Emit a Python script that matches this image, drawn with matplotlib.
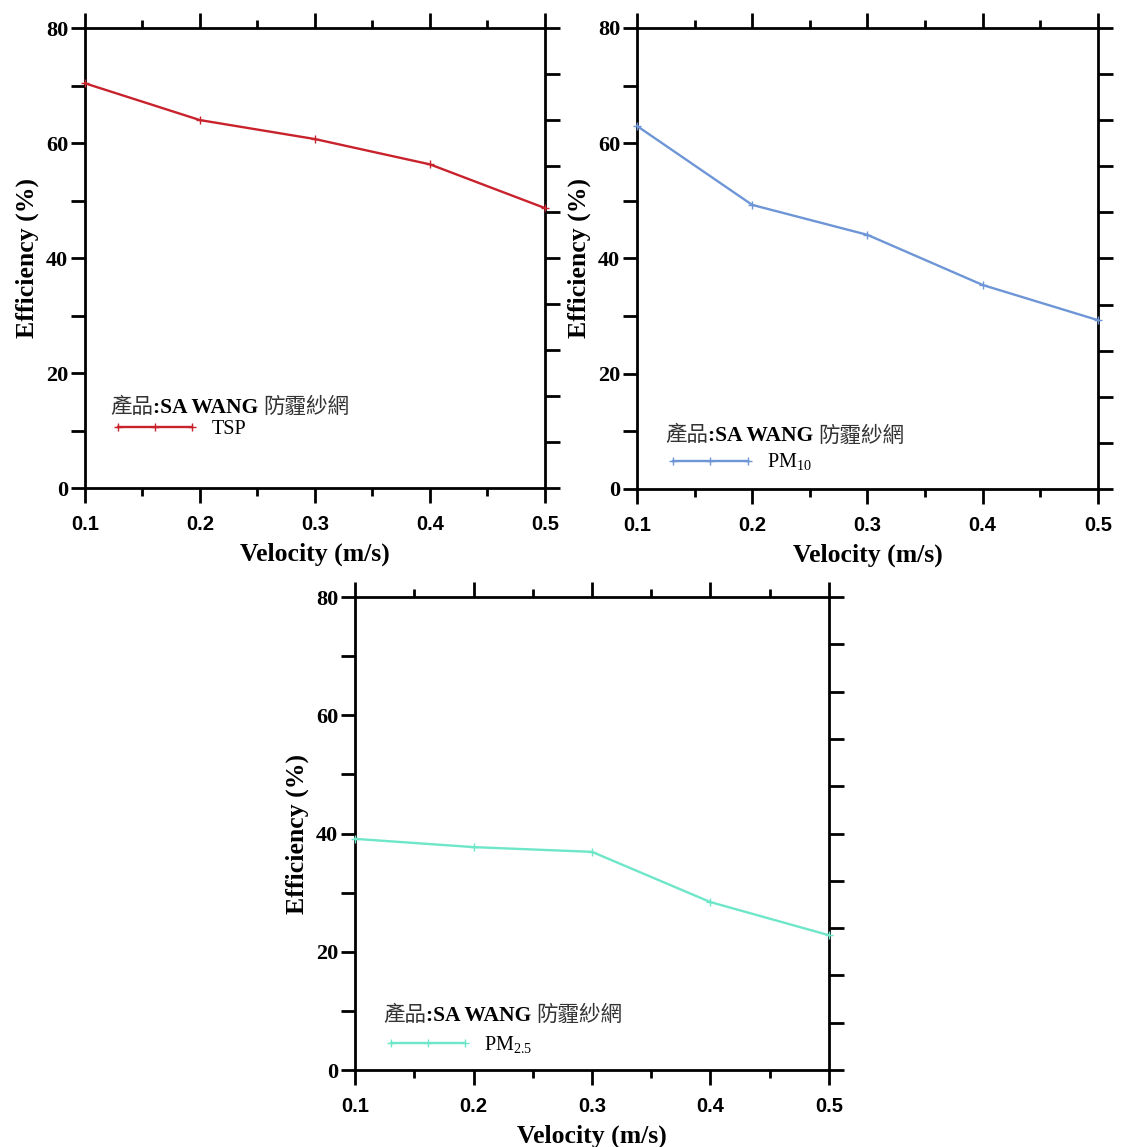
import numpy as np
import matplotlib.pyplot as plt
from matplotlib.ticker import MultipleLocator

plt.rcParams['mathtext.fontset'] = 'custom'
plt.rcParams['mathtext.rm'] = 'Liberation Serif'

velocity = [0.1, 0.2, 0.3, 0.4, 0.5]
tsp = [70.4, 64.0, 60.7, 56.3, 48.7]
pm10 = [63.0, 49.3, 44.1, 35.4, 29.3]
pm25 = [39.1, 37.7, 36.9, 28.4, 22.8]

labels = ['TSP', r'PM$_{\mathregular{10}}$', r'PM$_{\mathregular{2.5}}$']
colors = ['#c8232d', '#6e96d7', '#6ee6c8']
title_parts = [('產品', 'cjk'), (':SA WANG ', 'serif'), ('防霾紗網', 'cjk')]

SERIF = 'Liberation Serif'
SANS = 'Liberation Sans'
CJK = ['Noto Sans CJK TC', 'Liberation Serif']

fig = plt.figure(figsize=(11.21, 11.47), dpi=100)
rects = [[0.0758, 0.5745, 0.4103, 0.4010],
         [0.5682, 0.5737, 0.4112, 0.4019],
         [0.3167, 0.0671, 0.4228, 0.4124]]
# legend positions (x, title y, handle y) in axes fraction
leg_pos = [(0.054, 0.164, 0.128), (0.061, 0.103, 0.057), (0.059, 0.104, 0.053)]
series = [tsp, pm10, pm25]

for i in range(3):
    ax = fig.add_axes(rects[i])
    ax.plot(velocity, series[i], color=colors[i], lw=1.7, marker='+', ms=6,
            mew=1.0, label=labels[i], clip_on=False, zorder=3)
    ax.set_xlim(0.1, 0.5)
    ax.set_ylim(0, 80)
    ax.xaxis.set_major_locator(MultipleLocator(0.1))
    ax.xaxis.set_minor_locator(MultipleLocator(0.05))
    ax.yaxis.set_major_locator(MultipleLocator(20))
    ax.yaxis.set_minor_locator(MultipleLocator(10))
    for s in ax.spines.values():
        s.set_linewidth(2.0)
    ax.tick_params(axis='x', which='major', direction='out', length=10.5, width=2,
                   top=True, pad=9)
    ax.tick_params(axis='x', which='minor', direction='out', length=5.5, width=2,
                   top=True)
    ax.tick_params(axis='y', which='both', direction='out', length=10, width=2,
                   right=False, pad=2)
    ax.set_xticks([0.1, 0.2, 0.3, 0.4, 0.5])
    ax.set_xticklabels(['0.1', '0.2', '0.3', '0.4', '0.5'], fontfamily=SANS,
                       fontweight='bold', fontsize=14.5)
    ax.set_yticks([0, 20, 40, 60, 80])
    ax.set_yticklabels(['0', '20', '40', '60', '80'], fontfamily=SERIF,
                       fontweight='bold', fontsize=16)
    ax.set_xlabel('Velocity (m/s)', fontfamily=SERIF, fontweight='bold',
                  fontsize=18.5, labelpad=6)
    ax.set_ylabel('Efficiency (%)', fontfamily=SERIF, fontweight='bold',
                  fontsize=18.5, labelpad=5)

    tw = ax.twinx()
    tw.set_ylim(0, 80)
    tw.set_yticks(np.arange(0, 81, 8))
    tw.tick_params(axis='y', direction='out', length=10.5, width=2, labelright=False)
    for s in tw.spines.values():
        s.set_visible(False)

    # legend title with mixed fonts
    lx, ty, hy = leg_pos[i]
    prev = None
    for txt, kind in title_parts:
        kw = dict(fontsize=15.5)
        if kind == 'cjk':
            kw.update(family=CJK, fontweight='light', color='#333333')
        else:
            kw.update(family=SERIF, fontweight='bold')
        if prev is None:
            prev = ax.text(lx, ty, txt, transform=ax.transAxes, va='baseline',
                           ha='left', **kw)
        else:
            prev = ax.annotate(txt, xy=(1, 0), xycoords=prev, va='bottom',
                               ha='left', **kw)
    leg = ax.legend(loc='center left', bbox_to_anchor=(lx - 0.035, hy),
                    frameon=False, numpoints=3, handlelength=4.3,
                    handletextpad=0.65, prop={'family': SERIF, 'size': 14.5})

fig.savefig('out.png', dpi=100)
